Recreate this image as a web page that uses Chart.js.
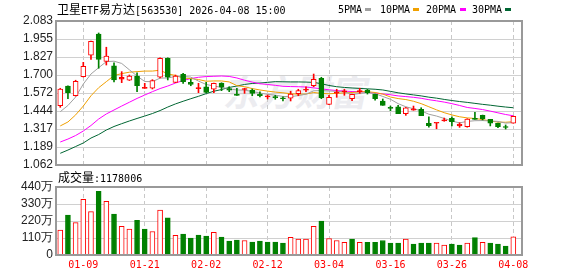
<!DOCTYPE html>
<html><head><meta charset="utf-8">
<script src="https://cdn.jsdelivr.net/npm/chart.js@4"></script>
<style>
html,body{margin:0;padding:0;background:#fff;width:578px;height:276px;overflow:hidden;}
#wrap{position:relative;width:578px;height:276px;}
canvas{position:absolute;left:0;top:0;}
.t{position:absolute;white-space:pre;color:#000;display:flex;align-items:baseline;line-height:12px;}
.m{font-family:'DejaVu Sans Mono',monospace;font-size:10px;}
.c{font-family:'Noto Sans CJK SC',sans-serif;font-size:12px;}
.sw{position:absolute;width:6px;height:3px;}
#wm{position:absolute;left:226px;top:64px;font-family:'Noto Sans CJK SC',sans-serif;font-weight:bold;font-size:36px;color:#ececf0;transform:skewX(-12deg);white-space:nowrap;}
</style></head>
<body><div id="wrap">
<div id="wm">东方财富</div>
<canvas id="k" width="578" height="276"></canvas>
<canvas id="v" width="578" height="276"></canvas>
<div class="t" style="left:57px;top:3px;"><span class="c">卫星</span><span class="m">ETF</span><span class="c">易方达</span><span class="m">[563530] 2026-04-08 15:00</span></div>
<div class="t m" style="left:338px;top:4px;">5PMA</div><div class="sw" style="left:365px;top:8px;background:#a0a0a0"></div>
<div class="t m" style="left:380px;top:4px;">10PMA</div><div class="sw" style="left:413px;top:8px;background:#f0a000"></div>
<div class="t m" style="left:426px;top:4px;">20PMA</div><div class="sw" style="left:460px;top:8px;background:#ff00ff"></div>
<div class="t m" style="left:472px;top:4px;">30PMA</div><div class="sw" style="left:505px;top:8px;background:#006633"></div>
<div class="t" style="left:58px;top:171px;"><span class="c">成交量</span><span class="m">:1178006</span></div>
</div>
<script>
const dates = ['01-06','01-07','01-08','01-09','01-12','01-13','01-14','01-15','01-16','01-19',
'01-20','01-21','01-22','01-23','01-26','01-27','01-28','01-29','01-30','02-02',
'02-03','02-04','02-05','02-06','02-09','02-10','02-11','02-12','02-13','02-24',
'02-25','02-26','02-27','03-02','03-03','03-04','03-05','03-06','03-09','03-10',
'03-11','03-12','03-13','03-16','03-17','03-18','03-19','03-20','03-23','03-24',
'03-25','03-26','03-27','03-30','03-31','04-01','04-02','04-03','04-07','04-08'];
const tickIdx = [3,11,19,27,35,43,51,59];
const priceTicks = [1.062,1.189,1.317,1.444,1.572,1.700,1.827,1.955,2.083];
const volTicks = [0,110,220,330,440];

const open = [1.483,1.622,1.553,1.688,1.840,1.991,1.797,1.766,1.670,1.663,
1.693,1.605,1.606,1.684,1.819,1.648,1.705,1.648,1.604,1.617,
1.599,1.643,1.603,1.565,1.597,1.594,1.565,1.545,1.543,1.535,
1.535,1.567,1.592,1.624,1.677,1.492,1.572,1.581,1.532,1.582,
1.594,1.563,1.516,1.467,1.475,1.426,1.450,1.457,1.358,1.358,
1.374,1.393,1.339,1.334,1.387,1.414,1.386,1.358,1.330,1.358];
const high = [1.606,1.624,1.663,1.790,1.941,1.998,1.897,1.787,1.724,1.700,
1.716,1.641,1.667,1.822,1.822,1.700,1.712,1.670,1.641,1.648,
1.643,1.645,1.617,1.606,1.606,1.601,1.580,1.558,1.556,1.546,
1.585,1.599,1.617,1.707,1.684,1.556,1.599,1.599,1.565,1.606,
1.599,1.565,1.530,1.480,1.485,1.470,1.480,1.468,1.404,1.361,
1.395,1.404,1.362,1.390,1.436,1.416,1.386,1.360,1.346,1.409];
const low = [1.471,1.532,1.551,1.686,1.811,1.748,1.771,1.651,1.646,1.661,
1.582,1.605,1.601,1.679,1.665,1.646,1.641,1.624,1.575,1.575,
1.575,1.589,1.582,1.556,1.570,1.553,1.544,1.530,1.528,1.516,
1.516,1.553,1.582,1.617,1.532,1.490,1.542,1.556,1.518,1.570,
1.565,1.521,1.485,1.447,1.426,1.414,1.450,1.412,1.331,1.319,
1.372,1.339,1.329,1.330,1.385,1.381,1.339,1.327,1.317,1.358];
const close = [1.601,1.575,1.655,1.762,1.939,1.811,1.835,1.665,1.684,1.693,
1.624,1.608,1.660,1.819,1.684,1.693,1.653,1.634,1.607,1.577,
1.641,1.613,1.592,1.556,1.600,1.570,1.553,1.547,1.540,1.532,
1.565,1.589,1.596,1.670,1.539,1.542,1.575,1.584,1.563,1.585,
1.575,1.532,1.485,1.464,1.426,1.468,1.461,1.412,1.341,1.361,
1.383,1.369,1.353,1.388,1.385,1.388,1.358,1.334,1.328,1.407];

const ma5 = [1.440,1.484,1.544,1.636,1.707,1.752,1.795,1.798,1.782,1.737,
1.693,1.654,1.653,1.678,1.679,1.690,1.690,1.685,1.657,1.633,
1.622,1.612,1.602,1.594,1.593,1.583,1.572,1.563,1.557,1.548,
1.547,1.554,1.564,1.588,1.590,1.587,1.584,1.582,1.561,1.570,
1.576,1.568,1.548,1.528,1.497,1.475,1.461,1.446,1.422,1.409,
1.392,1.373,1.361,1.371,1.376,1.377,1.374,1.371,1.359,1.363];
const ma10 = [1.339,1.367,1.417,1.480,1.553,1.610,1.653,1.696,1.710,1.720,
1.724,1.728,1.728,1.734,1.708,1.697,1.678,1.675,1.668,1.656,
1.658,1.658,1.651,1.625,1.617,1.604,1.594,1.586,1.579,1.574,
1.567,1.564,1.565,1.576,1.570,1.567,1.570,1.573,1.576,1.581,
1.582,1.576,1.565,1.544,1.533,1.526,1.514,1.497,1.475,1.453,
1.433,1.417,1.404,1.396,1.392,1.384,1.374,1.366,1.365,1.369];
const ma20 = [1.225,1.246,1.271,1.303,1.342,1.388,1.424,1.452,1.480,1.507,
1.534,1.558,1.582,1.604,1.622,1.643,1.661,1.675,1.684,1.689,
1.691,1.693,1.690,1.679,1.663,1.650,1.638,1.633,1.627,1.620,
1.618,1.617,1.615,1.609,1.602,1.595,1.590,1.586,1.583,1.582,
1.577,1.572,1.566,1.560,1.552,1.547,1.542,1.535,1.525,1.517,
1.508,1.497,1.484,1.470,1.463,1.455,1.444,1.432,1.420,1.411];
const ma30 = [1.145,1.168,1.193,1.218,1.253,1.278,1.310,1.335,1.355,1.374,
1.392,1.409,1.427,1.448,1.473,1.495,1.514,1.532,1.549,1.568,
1.585,1.597,1.612,1.622,1.633,1.640,1.643,1.648,1.653,1.652,
1.651,1.651,1.650,1.648,1.638,1.626,1.617,1.612,1.608,1.605,
1.602,1.599,1.594,1.584,1.574,1.566,1.559,1.552,1.543,1.536,
1.527,1.519,1.512,1.506,1.499,1.492,1.486,1.479,1.473,1.468];
// volume in 万
const volume = [161,258,210,361,281,412,348,264,185,167,
225,167,152,290,240,127,135,109,129,122,
146,116,90,97,94,84,90,84,84,77,
114,103,103,185,219,107,94,82,103,82,
82,82,94,77,77,103,71,77,77,77,
64,71,64,77,112,82,77,71,58,118];

const RED = '#ff0000', GREEN = '#008000';
Chart.defaults.animation = false;

const boxPlugin = {id:'box', afterDraw(c){const a=c.chartArea, x=c.ctx; x.save(); x.strokeStyle='#999'; x.lineWidth=2; x.strokeRect(a.left, a.top, a.right-a.left, a.bottom-a.top); x.restore();}};

function xAxis(showLabels, h){
  return {
    type:'linear', min:-0.555, max:60.13, offset:false,
    afterBuildTicks: ax => { ax.ticks = tickIdx.map(v=>({value:v})); },
    afterFit: ax => { ax.height = h; },
    ticks:{display:showLabels, autoSkip:false, maxRotation:0, color:RED, padding:4,
      font:{family:'DejaVu Sans Mono', size:10}, callback:(v)=>dates[v]},
    grid:{color:'#c8c8c8', lineWidth:1, drawTicks:false, offset:false},
    border:{display:false, dash:[4,3]}
  };
}
function yAxis(min, max, ticks, fmt){
  return {min:min, max:max,
    afterBuildTicks: ax => { ax.ticks = ticks.map(v=>({value:v})); },
    afterFit: ax => { ax.width = 56; },
    ticks:{color:'#222', padding:3, autoSkip:false, font:{family:'Liberation Sans', size:12}, callback:fmt},
    grid:{color:'#d0d0d0', drawTicks:false}, border:{display:false}};
}
const idx = close.map((_, i) => i);
const up = i => close[i] >= open[i];

new Chart(document.getElementById('k'), {
  type:'bar',
  data:{datasets:[
    {type:'bar', data: idx.map(i=>({x:i, y:[open[i], close[i]]})), barThickness:5, grouped:false, order:1,
      minBarLength:1, borderSkipped:false, borderWidth:1,
      borderColor: c => up(c.dataIndex) ? RED : GREEN,
      backgroundColor: c => { const i=c.dataIndex; if(!up(i)) return GREEN; return Math.abs(close[i]-open[i]) < 0.015 ? RED : '#ffffff'; }},
    {type:'bar', data: idx.map(i=>({x:i, y:[low[i], high[i]]})), barThickness:1, grouped:false, order:2, borderWidth:0,
      backgroundColor: c => up(c.dataIndex) ? RED : GREEN},
    {type:'line', data: ma5.map((v,i)=>({x:i,y:v})), borderColor:'#a0a0a0', borderWidth:1, pointRadius:0, tension:0, order:3},
    {type:'line', data: ma10.map((v,i)=>({x:i,y:v})), borderColor:'#f0a000', borderWidth:1, pointRadius:0, tension:0, order:3},
    {type:'line', data: ma20.map((v,i)=>({x:i,y:v})), borderColor:'#ff00ff', borderWidth:1, pointRadius:0, tension:0, order:3},
    {type:'line', data: ma30.map((v,i)=>({x:i,y:v})), borderColor:'#006633', borderWidth:1, pointRadius:0, tension:0, order:3}
  ]},
  options:{
    responsive:false, devicePixelRatio:1, events:[],
    layout:{padding:{top:21, right:56, bottom:111, left:0}},
    plugins:{legend:{display:false}, tooltip:{enabled:false}},
    scales:{
      x: xAxis(false, 0),
      y: yAxis(1.062, 2.083, priceTicks, v=>v.toFixed(3))
    }
  },
  plugins:[boxPlugin]
});

new Chart(document.getElementById('v'), {
  type:'bar',
  data:{datasets:[
    {data: idx.map(i=>({x:i, y:volume[i]})), barThickness:5, grouped:false, borderWidth:1,
      borderColor: c => { const i=c.dataIndex; return (i===0 || close[i]>=close[i-1]) ? RED : GREEN; },
      backgroundColor: c => { const i=c.dataIndex; return (i===0 || close[i]>=close[i-1]) ? '#ffffff' : GREEN; }}
  ]},
  options:{
    responsive:false, devicePixelRatio:1, events:[],
    layout:{padding:{top:187, right:56, bottom:0, left:0}},
    plugins:{legend:{display:false}, tooltip:{enabled:false}},
    scales:{
      x: xAxis(true, 21),
      y: yAxis(0, 440, volTicks, v=> v===0 ? '0' : v+'万')
    }
  },
  plugins:[boxPlugin]
});
</script>
</body></html>
